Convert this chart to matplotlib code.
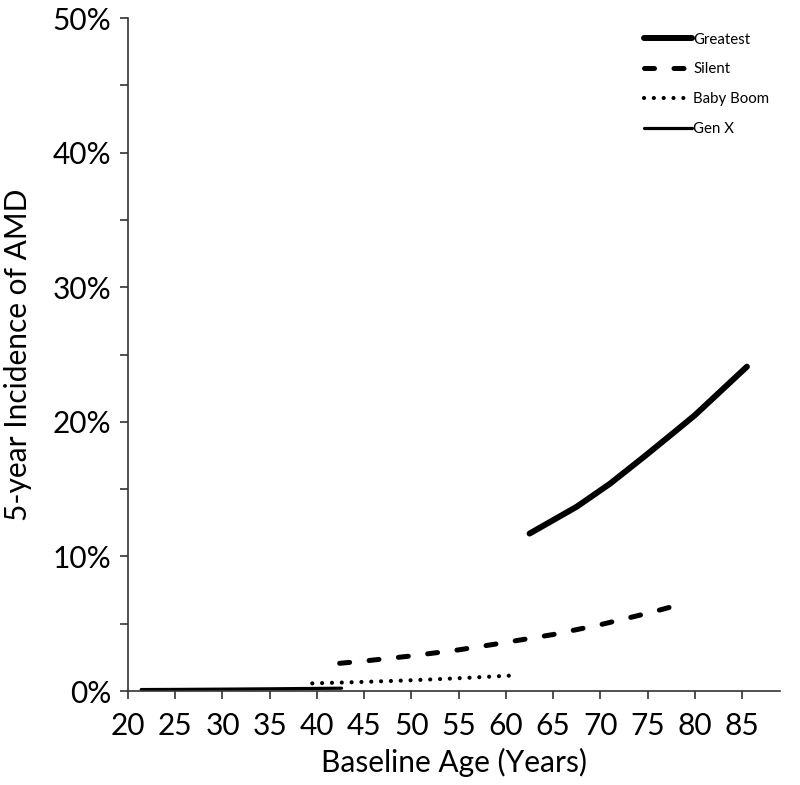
import matplotlib
matplotlib.use("Agg")
import matplotlib.pyplot as plt

plt.rcParams['font.family'] = ['Lato', 'DejaVu Sans']

# Data (age in years, 5-year incidence in %)
greatest_age = [62.5, 65, 67.5, 71, 74.6, 78.1, 80, 85.5]
greatest_val = [11.7, 12.7, 13.7, 15.4, 17.4, 19.4, 20.5, 24.1]

silent_age = [42.4, 45, 50, 55, 59, 65, 70, 75, 78.6]
silent_val = [2.06, 2.23, 2.61, 3.06, 3.5, 4.2, 4.93, 5.78, 6.46]

boom_age = [39.5, 45, 50, 55, 60.3]
boom_val = [0.57, 0.68, 0.80, 0.95, 1.14]

genx_age = [21.4, 25, 30, 35, 40, 42.6]
genx_val = [0.11, 0.12, 0.14, 0.165, 0.195, 0.21]

x_ticks = list(range(20, 90, 5))
y_ticks = list(range(0, 55, 5))
y_labels = [f"{v}%" if v % 10 == 0 else "" for v in y_ticks]

fig = plt.figure(figsize=(8.0, 7.85), dpi=100)
ax = fig.add_axes([0.160, 0.1197, 0.815, 0.8573])

ax.plot(greatest_age, greatest_val, color='black', lw=4.3, solid_capstyle='round', label='Greatest')
ax.plot(silent_age, silent_val, color='black', lw=3.6, linestyle=(0, (2.0, 3.9)),
        dash_capstyle='round', label='Silent')
ax.plot(boom_age, boom_val, color='black', lw=3.0, linestyle=(0, (0.01, 2.35)),
        dash_capstyle='round', label='Baby Boom')
ax.plot(genx_age, genx_val, color='black', lw=2.3, solid_capstyle='round', label='Gen X')

ax.set_xlim(20, 89)
ax.set_ylim(0, 50)
ax.set_xticks(x_ticks)
ax.set_yticks(y_ticks)
ax.set_yticklabels(y_labels)

for s in ['top', 'right']:
    ax.spines[s].set_visible(False)
for s in ['left', 'bottom']:
    ax.spines[s].set_color('#333333')
    ax.spines[s].set_linewidth(1.2)
ax.tick_params(axis='both', direction='out', length=6, width=1.2, color='#333333',
               labelsize=21.5, pad=6)
ax.tick_params(axis='x', pad=9)

ax.set_xlabel('Baseline Age (Years)', fontsize=21.5, labelpad=6)
ax.set_ylabel('5-year Incidence of AMD', fontsize=21.5, labelpad=15)

leg = ax.legend(loc='upper left', bbox_to_anchor=(636/800, 1 - 25/785),
                bbox_transform=fig.transFigure, frameon=False, fontsize=10.8,
                handlelength=3.2, handletextpad=0.1, labelspacing=1.05, borderpad=0)

fig.savefig('out.png', dpi=100)
